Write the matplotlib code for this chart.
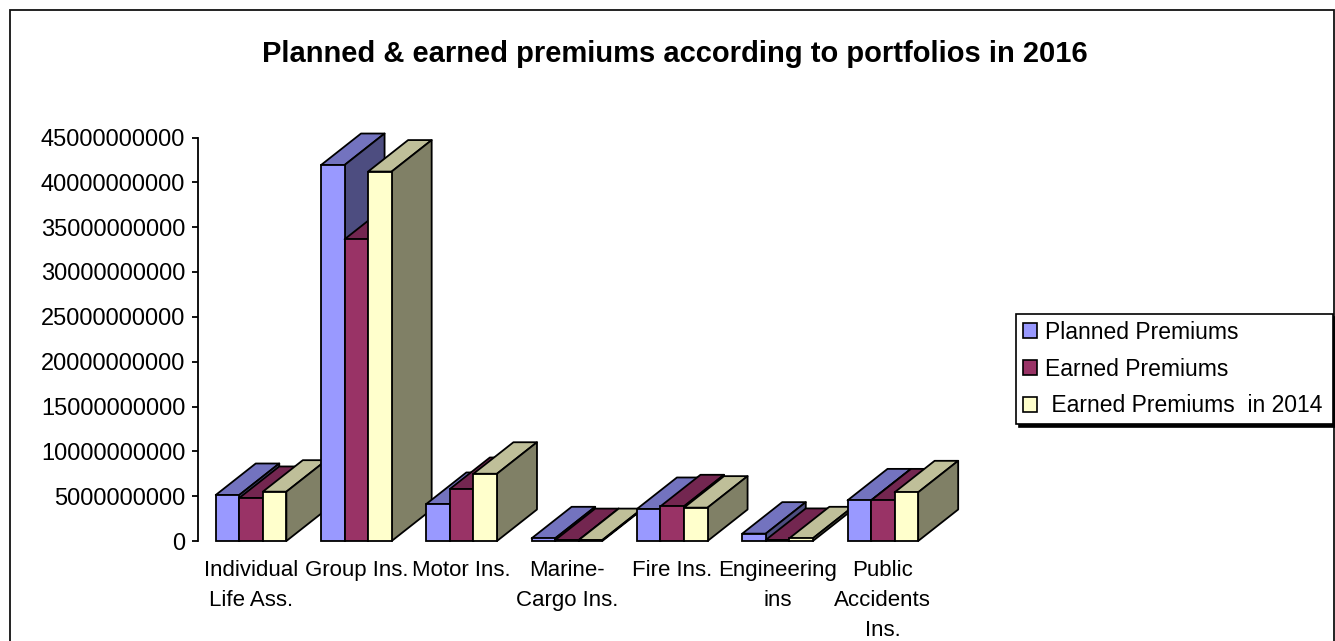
import numpy as np
import matplotlib
matplotlib.use("Agg")
import matplotlib.pyplot as plt
from matplotlib.patches import Rectangle, Patch

plt.rcParams['font.family'] = ['Liberation Sans', 'DejaVu Sans']

title = "Planned & earned premiums according to portfolios in 2016"
categories = ["Individual\nLife Ass.", "Group Ins.", "Motor Ins.", "Marine-\nCargo Ins.",
              "Fire Ins.", "Engineering\nins", "Public\nAccidents\nIns."]
planned = [5.13e9, 41.93e9, 4.13e9, 0.30e9, 3.57e9, 0.82e9, 4.53e9]
earned = [4.80e9, 33.65e9, 5.80e9, 0.10e9, 3.87e9, 0.12e9, 4.53e9]
earned_2014 = [5.50e9, 41.20e9, 7.50e9, 0.10e9, 3.72e9, 0.30e9, 5.43e9]
series_names = ["Planned Premiums", "Earned Premiums", " Earned Premiums  in 2014"]
y_ticks = [0, 5e9, 10e9, 15e9, 20e9, 25e9, 30e9, 35e9, 40e9, 45e9]

front_colors = ["#9999FF", "#993366", "#FFFFCC"]
top_colors = ["#7373BF", "#732650", "#BFBF99"]
side_colors = ["#4D4D80", "#4D1A33", "#808066"]

W, H = 1335, 641
fig = plt.figure(figsize=(W / 100, H / 100), dpi=100, facecolor="white")
ax = fig.add_axes([198.4 / W, (H - 541) / H, (935.5 - 198.4) / W, (541 - 137.5) / H])

# outer chart border
fig.add_artist(Rectangle((10 / W, -5 / H), 1323.5 / W, (H + 5 - 9.5) / H, transform=fig.transFigure,
                         fill=False, edgecolor="#111111", lw=1.3))

bar_w = 23.55 / 105.3
dx = 40 / 105.3
dy = 31.5 / 403.5 * 45e9
lw = 1.3
data = [planned, earned, earned_2014]

for i in range(len(categories)):
    for s, vals in enumerate(data):
        v = vals[i]
        x0 = i + 0.5 + (s - 1.5) * bar_w
        x1 = x0 + bar_w
        ax.fill([x0, x1, x1 + dx, x0 + dx], [v, v, v + dy, v + dy],
                facecolor=top_colors[s], edgecolor="black", lw=lw, clip_on=False, joinstyle="round")
        ax.fill([x1, x1 + dx, x1 + dx, x1], [0, dy, v + dy, v],
                facecolor=side_colors[s], edgecolor="black", lw=lw, clip_on=False, joinstyle="round")
        ax.bar(x0, v, width=bar_w, align="edge", color=front_colors[s],
               edgecolor="black", lw=lw, clip_on=False)

ax.set_xlim(0, len(categories))
ax.set_ylim(0, 45e9)
ax.set_yticks(y_ticks)
ax.set_yticklabels([str(int(t)) for t in y_ticks], fontsize=17)
ax.set_xticks(np.arange(len(categories)) + 0.5)
ax.set_xticklabels(categories, fontsize=16, linespacing=1.57)
ax.tick_params(axis="x", length=0, pad=13.5)
ax.tick_params(axis="y", length=4.5, width=1.3, pad=5)
for side in ("top", "right", "bottom"):
    ax.spines[side].set_visible(False)
ax.spines["left"].set_linewidth(1.3)

fig.text(675 / W, (H - 54) / H, title, ha="center", va="center", fontsize=20.95, fontweight="bold")

handles = [Patch(facecolor=c, edgecolor="black", lw=1.2) for c in front_colors]
leg = fig.legend(handles, series_names, loc="upper left", mode="expand",
                 bbox_to_anchor=(1016 / W, (H - 314) / H, 317 / W, 0), borderaxespad=0,
                 fontsize=16.5, frameon=True, fancybox=False, edgecolor="black", framealpha=1,
                 handlelength=0.62, handleheight=0.62, handletextpad=0.35, labelspacing=0.6,
                 borderpad=0.3, shadow={"color": "black", "alpha": 1, "ox": 2.2, "oy": -2.2})
leg.get_frame().set_linewidth(1.2)

fig.savefig("out.png", dpi=100, facecolor="white")
